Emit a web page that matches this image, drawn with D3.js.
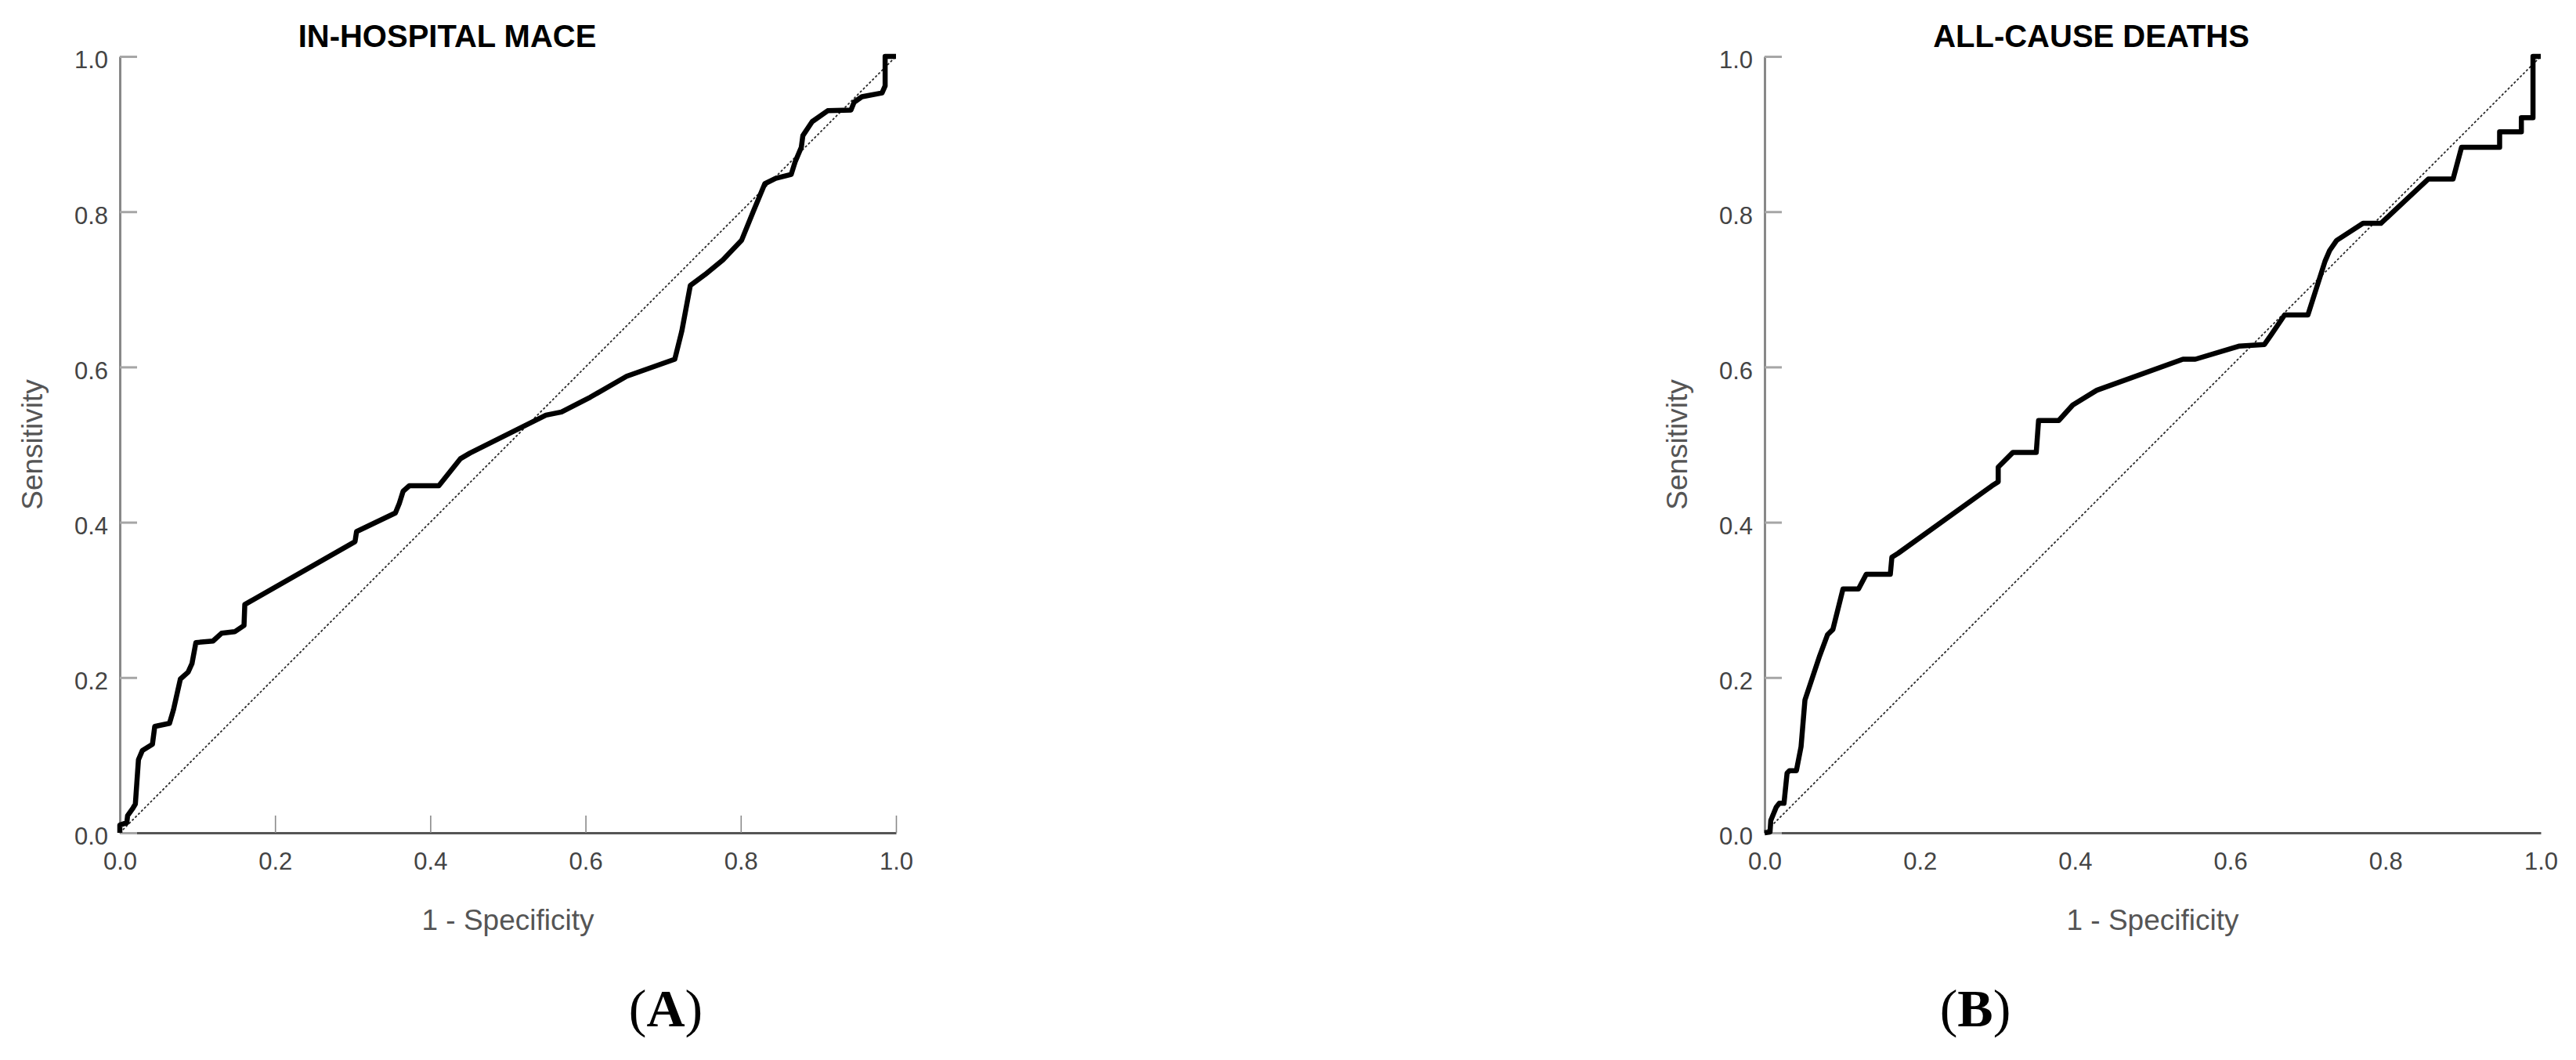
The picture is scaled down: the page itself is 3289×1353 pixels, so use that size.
<!DOCTYPE html>
<html>
<head>
<meta charset="utf-8">
<script src="https://cdn.jsdelivr.net/npm/d3@7"></script>
<style>
  html, body { margin: 0; padding: 0; background: #fff; }
  svg { display: block; }
</style>
</head>
<body>
<script>
// ---- Data ----
const tickValues = [0, 0.2, 0.4, 0.6, 0.8, 1.0];

const titles = ["IN-HOSPITAL MACE", "ALL-CAUSE DEATHS"];
const panelLabels = ["A", "B"];
const xAxisTitle = "1 - Specificity";
const yAxisTitle = "Sensitivity";

// Panel A: in-hospital MACE
const fprA = [0, 0, 0.009, 0.010, 0.017, 0.020, 0.024, 0.029, 0.042, 0.045, 0.064, 0.069, 0.078, 0.088, 0.093, 0.098,
  0.120, 0.131, 0.148, 0.160, 0.161, 0.168, 0.303, 0.305, 0.355, 0.360, 0.365, 0.373, 0.411, 0.439, 0.451,
  0.549, 0.569, 0.606, 0.653, 0.715, 0.724, 0.735, 0.754, 0.777, 0.801, 0.816, 0.831, 0.845, 0.865, 0.870,
  0.878, 0.880, 0.892, 0.912, 0.942, 0.946, 0.956, 0.982, 0.986, 0.986, 1.0];
const sensA = [0, 0.010, 0.013, 0.022, 0.032, 0.037, 0.094, 0.106, 0.114, 0.137, 0.141, 0.158, 0.198, 0.207, 0.218, 0.245,
  0.247, 0.257, 0.259, 0.267, 0.294, 0.298, 0.375, 0.388, 0.412, 0.424, 0.440, 0.447, 0.447, 0.482, 0.489,
  0.538, 0.542, 0.561, 0.588, 0.610, 0.646, 0.705, 0.719, 0.738, 0.763, 0.800, 0.836, 0.843, 0.848, 0.864,
  0.883, 0.898, 0.916, 0.930, 0.931, 0.941, 0.948, 0.953, 0.962, 1.0, 1.0];

// Panel B: all-cause deaths
const fprB = [0, 0.007, 0.008, 0.015, 0.019, 0.025, 0.029, 0.032, 0.041, 0.047, 0.052, 0.061, 0.071, 0.081, 0.088,
  0.101, 0.121, 0.131, 0.162, 0.164, 0.172, 0.293, 0.301, 0.301, 0.320, 0.350, 0.353, 0.379, 0.397, 0.428,
  0.539, 0.555, 0.612, 0.644, 0.653, 0.670, 0.700, 0.722, 0.728, 0.737, 0.771, 0.794, 0.855, 0.887, 0.898,
  0.947, 0.947, 0.975, 0.975, 0.990, 0.990, 1.0];
const sensB = [0, 0.001, 0.016, 0.033, 0.038, 0.038, 0.077, 0.080, 0.080, 0.111, 0.171, 0.198, 0.228, 0.255, 0.262,
  0.314, 0.314, 0.333, 0.333, 0.355, 0.360, 0.447, 0.452, 0.471, 0.490, 0.490, 0.531, 0.531, 0.551, 0.570,
  0.610, 0.610, 0.627, 0.629, 0.642, 0.667, 0.667, 0.736, 0.750, 0.763, 0.785, 0.785, 0.842, 0.842, 0.883,
  0.883, 0.903, 0.903, 0.921, 0.921, 1.0, 1.0];

// ---- Layout ----
const W = 3289, H = 1353;
const FONT = "'Liberation Sans', Arial, Helvetica, sans-serif";
const SERIF = "'Liberation Serif', 'Times New Roman', Times, serif";

const panels = [
  { x0: 153, fpr: fprA, sens: sensA, title: titles[0], label: panelLabels[0], xTicks: true, titleX: 571, labelX: 850 },
  { x0: 2253, fpr: fprB, sens: sensB, title: titles[1], label: panelLabels[1], xTicks: false, titleX: 2670, labelX: 2522 }
];
const plotSize = 991, yTop = 72, yBottom = 1063;

const svg = d3.select("body").append("svg")
  .attr("width", W).attr("height", H)
  .attr("viewBox", `0 0 ${W} ${H}`);
svg.append("rect").attr("width", W).attr("height", H).attr("fill", "#fff");

panels.forEach(p => {
  const x = d3.scaleLinear().domain([0, 1]).range([p.x0, p.x0 + plotSize]);
  const y = d3.scaleLinear().domain([0, 1]).range([yBottom, yTop]);
  const g = svg.append("g");

  // X axis
  const xAxis = d3.axisBottom(x).tickValues(tickValues).tickFormat(d3.format(".1f"))
    .tickSizeOuter(0).tickSizeInner(p.xTicks ? -22 : 0).tickPadding(25);
  const gx = g.append("g").attr("transform", `translate(0,${yBottom})`).call(xAxis);
  gx.select(".domain").attr("stroke", "#555").attr("stroke-width", 3);
  gx.selectAll(".tick line").attr("stroke", "#8a8a8a").attr("stroke-width", 1.6);
  if (!p.xTicks) gx.selectAll(".tick line").remove();
  gx.selectAll(".tick text").attr("font-family", FONT).attr("font-size", 31).attr("fill", "#444");

  // Y axis
  const yAxis = d3.axisLeft(y).tickValues(tickValues).tickFormat(d3.format(".1f"))
    .tickSizeOuter(0).tickSizeInner(-22).tickPadding(15);
  const gy = g.append("g").attr("transform", `translate(${p.x0},0)`).call(yAxis);
  gy.select(".domain").attr("stroke", "#888").attr("stroke-width", 3);
  gy.selectAll(".tick line").attr("stroke", "#a6a6a6").attr("stroke-width", 3);
  gy.selectAll(".tick text").attr("font-family", FONT).attr("font-size", 31).attr("fill", "#444")
    .attr("dy", "0.48em");

  // Reference diagonal
  g.append("line")
    .attr("x1", x(0)).attr("y1", y(0)).attr("x2", x(1)).attr("y2", y(1))
    .attr("stroke", "#222").attr("stroke-width", 1.7).attr("stroke-dasharray", "3,2.5");

  // ROC curve
  const pts = p.fpr.map((f, i) => [f, p.sens[i]]);
  g.append("path")
    .datum(pts)
    .attr("d", d3.line().x(d => x(d[0])).y(d => y(d[1])))
    .attr("fill", "none").attr("stroke", "#000").attr("stroke-width", 6.5)
    .attr("stroke-linejoin", "round").attr("stroke-linecap", "butt");

  // Titles
  g.append("text").attr("x", p.titleX).attr("y", 60).attr("text-anchor", "middle")
    .attr("font-family", FONT).attr("font-weight", "bold").attr("font-size", 40).attr("fill", "#000")
    .text(p.title);

  g.append("text").attr("x", x(0.5)).attr("y", 1187).attr("text-anchor", "middle")
    .attr("font-family", FONT).attr("font-size", 37).attr("fill", "#555")
    .text(xAxisTitle);

  g.append("text")
    .attr("transform", `translate(${p.x0 - 99},${(yTop + yBottom) / 2}) rotate(-90)`)
    .attr("text-anchor", "middle")
    .attr("font-family", FONT).attr("font-size", 37).attr("fill", "#555")
    .text(yAxisTitle);

  // Panel label (A) / (B)
  const lab = g.append("text").attr("x", p.labelX).attr("y", 1310).attr("text-anchor", "middle")
    .attr("font-family", SERIF).attr("font-size", 68).attr("fill", "#000");
  lab.append("tspan").text("(");
  lab.append("tspan").attr("font-weight", "bold").text(p.label);
  lab.append("tspan").text(")");
});
</script>
</body>
</html>
